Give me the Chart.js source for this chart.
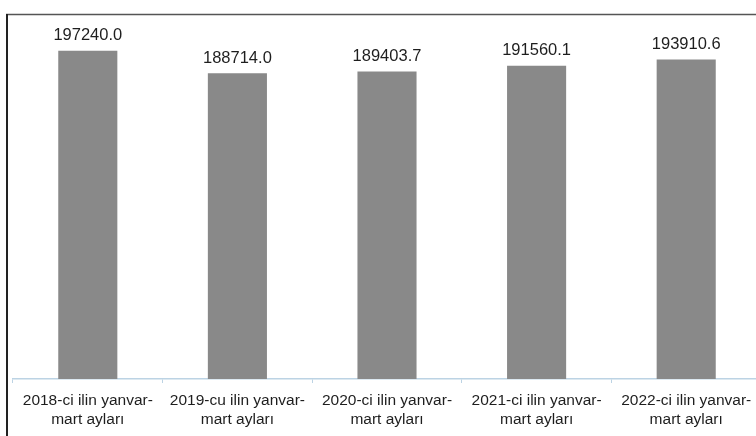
<!DOCTYPE html>
<html>
<head>
<meta charset="utf-8">
<script src="https://cdn.jsdelivr.net/npm/chart.js@4.4.0/dist/chart.umd.min.js"></script>
<style>
  html, body { margin: 0; padding: 0; background: #fff; overflow: hidden; }
  #wrap { position: relative; width: 764px; height: 436px; }
</style>
</head>
<body>
<div id="wrap"><canvas id="chart"></canvas></div>
<script>
// categories (two-line labels) and values
const categories = [
    ["2018-ci ilin yanvar-", "mart ayları"],
    ["2019-cu ilin yanvar-", "mart ayları"],
    ["2020-ci ilin yanvar-", "mart ayları"],
    ["2021-ci ilin yanvar-", "mart ayları"],
    ["2022-ci ilin yanvar-", "mart ayları"]
];
const values = [197240.0, 188714.0, 189403.7, 191560.1, 193910.6];
const valueLabels = ["197240.0", "188714.0", "189403.7", "191560.1", "193910.6"];

const FONT = "'Liberation Sans', Arial, sans-serif";

// data labels above bars + outer frame
const labelsPlugin = {
    id: 'labels',
    afterDatasetsDraw(chart) {
        let ctx = chart.ctx;
        let meta = chart.getDatasetMeta(0);
        ctx.save();
        ctx.font = "16.5px " + FONT;
        ctx.fillStyle = "#1e1e1e";
        ctx.textAlign = "center";
        ctx.textBaseline = "bottom";
        meta.data.forEach((bar, i) => {
            ctx.fillText(valueLabels[i], bar.x, bar.y - 7);
        });
        ctx.restore();
    },
    afterDraw(chart) {
        let ctx = chart.ctx;
        ctx.save();
        ctx.strokeStyle = "#555";
        ctx.lineWidth = 1.5;
        ctx.beginPath();
        ctx.moveTo(6, 14.5);
        ctx.lineTo(chart.width, 14.5);
        ctx.stroke();
        ctx.strokeStyle = "#222";
        ctx.lineWidth = 2;
        ctx.beginPath();
        ctx.moveTo(7, 14);
        ctx.lineTo(7, chart.height);
        ctx.stroke();
        ctx.restore();
    }
};

function createChart(id, config) {
    try {
        return new Chart(id, config);
    } catch (e)
    {
        console.log(e);
    }
}

createChart('chart', {
    type: 'bar',
    data: {
        labels: categories,
        datasets: [{
            data: values,
            backgroundColor: '#898989',
            borderWidth: 0,
            categoryPercentage: 1.0,
            barPercentage: 0.395
        }]
    },
    options: {
        responsive: true,
        maintainAspectRatio: false,
        animation: false,
        layout: { padding: { left: 13, right: 3, top: 20, bottom: 0 } },
        plugins: {
            legend: { display: false },
            tooltip: { enabled: false }
        },
        scales: {
            x: {
                grid: {
                    display: true,
                    drawOnChartArea: false,
                    drawTicks: true,
                    tickLength: 4,
                    offset: true,
                    color: '#bcd3e4'
                },
                border: { display: true, color: '#bcd3e4', width: 1.5 },
                ticks: {
                    font: { family: FONT, size: 15.5, lineHeight: 1.25 },
                    color: '#1e1e1e',
                    maxRotation: 0,
                    autoSkip: false,
                    padding: 8
                },
                afterFit: s => { s.height = 57; }
            },
            y: {
                display: false,
                min: 73500,
                max: 208800
            }
        }
    },
    plugins: [labelsPlugin]
});
</script>
</body>
</html>
